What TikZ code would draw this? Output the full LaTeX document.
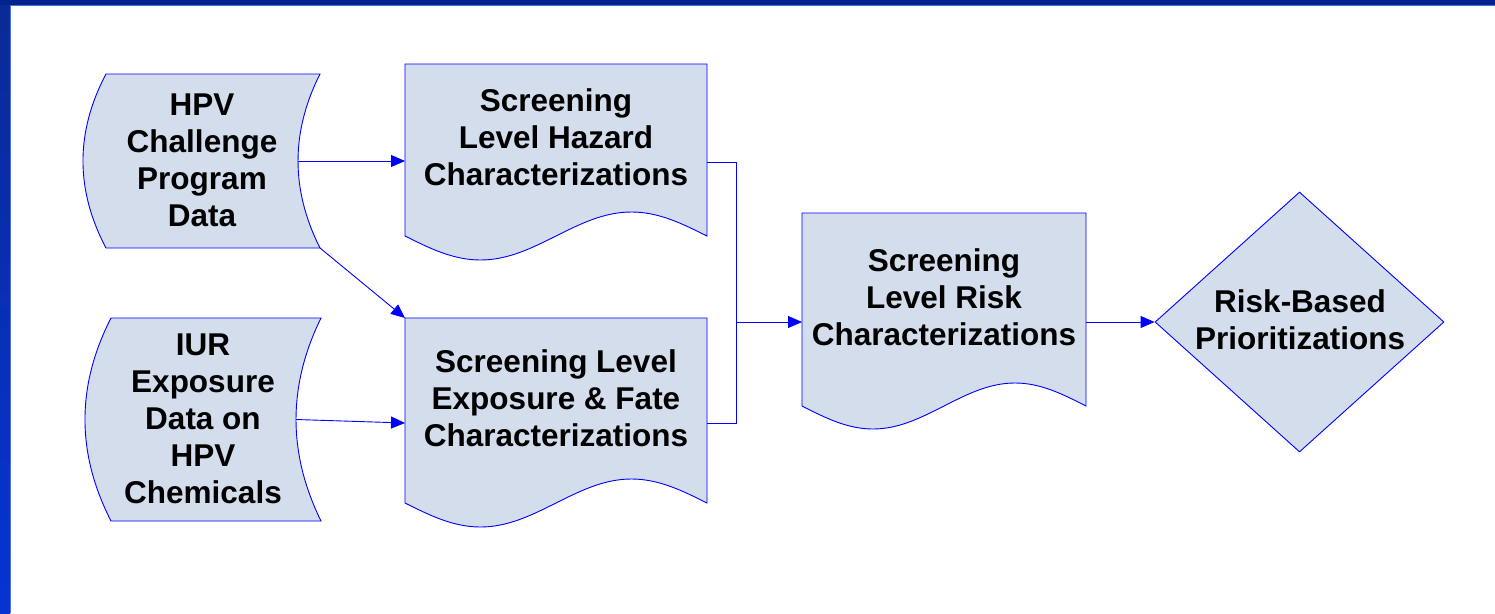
\documentclass[tikz,border=0pt]{standalone}
\usepackage{fontspec}
\setmainfont{Liberation Sans}
\usetikzlibrary{arrows.meta,shapes.geometric,calc}
\definecolor{boxfill}{RGB}{211,221,235}
\definecolor{edgeblue}{RGB}{0,0,255}
\definecolor{bandtop}{RGB}{2,34,140}
\definecolor{bandlefttop}{RGB}{10,42,150}
\definecolor{bandleftbot}{RGB}{5,52,212}
\definecolor{bandedge}{RGB}{80,110,220}
\begin{document}
\begin{tikzpicture}[x=1pt,y=-1pt,
  anchorbox/.style={draw=none, rectangle, inner sep=0pt, outer sep=0pt},
  shapebox/.style={draw=edgeblue, fill=boxfill, line width=0.9pt},
  txt/.style={font=\bfseries\fontsize{31.5}{37}\selectfont, align=center, inner sep=0pt, text=black},
  conn/.style={draw=edgeblue, line width=0.9pt},
  arr/.style={conn, -{Triangle[length=14pt,width=12pt]}}
]
\useasboundingbox (0,0) rectangle (1495,613);
\fill[white] (0,0) rectangle (1495,613);
% frame bands
\shade[top color=bandlefttop, bottom color=bandleftbot] (0,0) rectangle (10,613);
\draw[bandedge, line width=0.8pt] (10.4,5) -- (10.4,613);
\fill[bandtop] (0,0) rectangle (1495,5);
\draw[bandedge, line width=0.8pt] (10,5.4) -- (1495,5.4);

% anchor boxes
\node[anchorbox, minimum width=214pt, minimum height=174pt] (hpv) at (213,161) {};
\node[anchorbox, minimum width=210pt, minimum height=203pt] (iur) at (216,419.5) {};
\node[anchorbox, minimum width=302pt, minimum height=172pt] (haz) at (556,150) {};
\node[anchorbox, minimum width=302pt, minimum height=185pt] (exp) at (556,410.5) {};
\node[anchorbox, minimum width=284pt, minimum height=193pt] (risk) at (944,309.5) {};

% stored data shapes
\draw[shapebox] (hpv.north west) -- (hpv.north east)
  .. controls +(-29.3,58) and +(-29.3,-58) .. (hpv.south east)
  -- (hpv.south west)
  .. controls +(-30.7,-58) and +(-30.7,58) .. (hpv.north west) -- cycle;
\draw[shapebox] (iur.north west) -- (iur.north east)
  .. controls +(-33.3,67.7) and +(-33.3,-67.7) .. (iur.south east)
  -- (iur.south west)
  .. controls +(-34.7,-67.7) and +(-34.7,67.7) .. (iur.north west) -- cycle;

% document shapes
\draw[shapebox] (haz.south west) -- (haz.north west) -- (haz.north east) -- (haz.south east)
  sin ++(-75.5,-24) cos ++(-75.5,24) sin ++(-75.5,24) cos ++(-75.5,-24) -- cycle;
\draw[shapebox] (exp.south west) -- (exp.north west) -- (exp.north east) -- (exp.south east)
  sin ++(-75.5,-24) cos ++(-75.5,24) sin ++(-75.5,24) cos ++(-75.5,-24) -- cycle;
\draw[shapebox] (risk.south west) -- (risk.north west) -- (risk.north east) -- (risk.south east)
  sin ++(-71,-23) cos ++(-71,23) sin ++(-71,23) cos ++(-71,-23) -- cycle;

% decision
\node[diamond, shapebox, minimum width=289pt, minimum height=260pt, inner sep=0pt] (dia) at (1299.5,322) {};

% texts
\node[txt] (hpvt) at (202,160) {HPV\\Challenge\\Program\\Data};
\node[txt] (iurt) at (203,419) {IUR\\Exposure\\Data on\\HPV\\Chemicals};
\node[txt] (hazt) at (556,137) {Screening\\Level Hazard\\Characterizations};
\node[txt] (expt) at (556,398) {Screening Level\\Exposure \& Fate\\Characterizations};
\node[txt] (riskt) at (944,297) {Screening\\Level Risk\\Characterizations};
\node[txt] (diat) at (1300,320) {Risk-Based\\Prioritizations};

% connectors
\coordinate (join) at (736,322);
\draw[arr] ([xshift=-22pt]hpv.east) -- ([yshift=-11pt]haz.west);
\draw[arr] (hpv.south east) -- (exp.north west);
\draw[arr] ([xshift=-25pt]iur.east) -- ([yshift=-12.5pt]exp.west);
\draw[conn] ([yshift=-12pt]haz.east) -| (join);
\draw[conn] ([yshift=-12.5pt]exp.east) -| (join);
\draw[arr] (join) -- ([yshift=-12.5pt]risk.west);
\draw[arr] ([yshift=-12.5pt]risk.east) -- (dia.west);
\end{tikzpicture}
\end{document}
